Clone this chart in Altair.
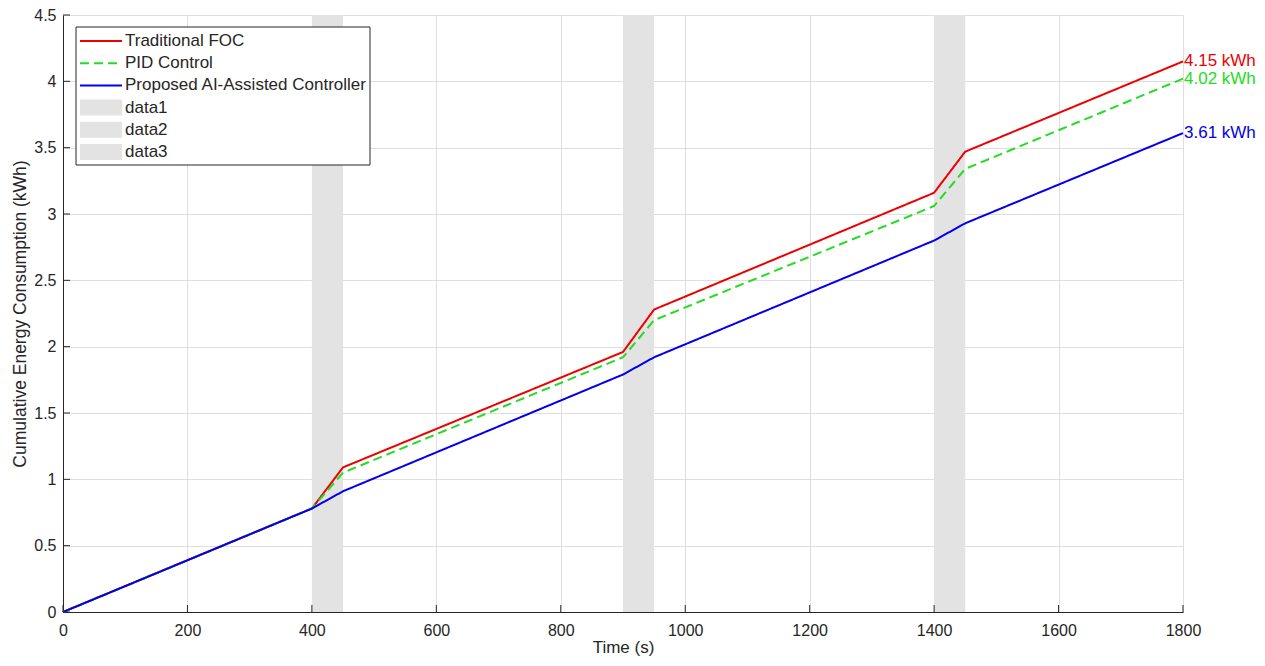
import altair as alt
import pandas as pd

# ---- data ----
time_s = [0, 400, 450, 900, 950, 1400, 1450, 1800]
foc = [0.0, 0.78, 1.09, 1.96, 2.28, 3.16, 3.47, 4.15]
pid = [0.0, 0.78, 1.05, 1.92, 2.20, 3.06, 3.34, 4.02]
ai = [0.0, 0.78, 0.91, 1.79, 1.92, 2.80, 2.93, 3.61]

series_names = ["Traditional FOC", "PID Control", "Proposed AI-Assisted Controller"]
series_colors = ["#ee0000", "#22dd22", "#0000ee"]
series_dash = [[1, 0], [9, 5], [1, 0]]
end_labels = ["4.15 kWh", "4.02 kWh", "3.61 kWh"]

shade_start = [400, 900, 1400]
shade_end = [450, 950, 1450]
shade_names = ["data1", "data2", "data3"]

x_ticks = list(range(0, 1801, 200))
y_ticks = [0, 0.5, 1, 1.5, 2, 2.5, 3, 3.5, 4, 4.5]

# ---- tables ----
rows = []
for name, vals in zip(series_names, [foc, pid, ai]):
    for t, v in zip(time_s, vals):
        rows.append({"series": name, "t": t, "e": v})
lines_df = pd.DataFrame(rows)

end_df = pd.DataFrame({
    "series": series_names,
    "t": [time_s[-1]] * 3,
    "e": [foc[-1], pid[-1], ai[-1]],
    "label": end_labels,
})
shade_df = pd.DataFrame({"x0": shade_start, "x1": shade_end, "y0": [0] * 3, "y1": [4.5] * 3})
xt_df = pd.DataFrame({"t": x_ticks})
yt_df = pd.DataFrame({"e": y_ticks})

W, H = 1120, 597
FONT = "Liberation Sans"
TXT = "#262626"

xscale = alt.Scale(domain=[0, 1800], nice=False)
yscale = alt.Scale(domain=[0, 4.5], nice=False)
color_scale = alt.Scale(domain=series_names, range=series_colors)
dash_scale = alt.Scale(domain=series_names, range=series_dash)

xaxis = alt.Axis(values=x_ticks, format="d", title="Time (s)", grid=True, tickSize=0,
                 labelPadding=10, titlePadding=1, labelFlush=False, titleFontSize=17)
yaxis = alt.Axis(values=y_ticks, format="~g", title="Cumulative Energy Consumption (kWh)",
                 grid=True, tickSize=0, labelPadding=7, titlePadding=4, labelFlush=False,
                 titleFontSize=17.5)

shade = alt.Chart(shade_df).mark_rect(color="#e3e3e3").encode(
    x=alt.X("x0:Q", scale=xscale, axis=xaxis),
    x2="x1:Q",
    y=alt.Y("y0:Q", scale=yscale, axis=yaxis),
    y2="y1:Q",
)

lines = alt.Chart(lines_df).mark_line(strokeWidth=2).encode(
    x=alt.X("t:Q", scale=xscale),
    y=alt.Y("e:Q", scale=yscale),
    color=alt.Color("series:N", scale=color_scale, legend=None),
    strokeDash=alt.StrokeDash("series:N", scale=dash_scale, legend=None),
    order=alt.Order("t:Q"),
)

labels = alt.Chart(end_df).mark_text(align="left", baseline="middle", dx=1,
                                     font=FONT, fontSize=17).encode(
    x=alt.X("t:Q", scale=xscale),
    y=alt.Y("e:Q", scale=yscale),
    text="label:N",
    color=alt.Color("series:N", scale=color_scale, legend=None),
)

xticks = alt.Chart(xt_df).mark_rule(color=TXT, strokeWidth=1).encode(
    x=alt.X("t:Q", scale=xscale), y=alt.value(H), y2=alt.value(H - 7))
yticks = alt.Chart(yt_df).mark_rule(color=TXT, strokeWidth=1).encode(
    y=alt.Y("e:Q", scale=yscale), x=alt.value(0), x2=alt.value(7))

# ---- legend (MATLAB-style box) ----
one = pd.DataFrame({"k": [0]})
leg_layers = [
    alt.Chart(one).mark_rect(fill="white", stroke=TXT, strokeWidth=1).encode(
        x=alt.value(13), x2=alt.value(307), y=alt.value(12), y2=alt.value(150))
]
row_y0, row_dy = 26, 22.2
leg_labels = series_names + shade_names
for i, lab in enumerate(leg_labels):
    yy = row_y0 + row_dy * i
    if i < 3:
        leg_layers.append(
            alt.Chart(one).mark_rule(color=series_colors[i], strokeWidth=2,
                                     strokeDash=series_dash[i]).encode(
                x=alt.value(17), x2=alt.value(59), y=alt.value(yy)))
    else:
        leg_layers.append(
            alt.Chart(one).mark_rect(color="#e3e3e3").encode(
                x=alt.value(17), x2=alt.value(59), y=alt.value(yy - 8), y2=alt.value(yy + 8)))
    leg_layers.append(
        alt.Chart(one).mark_text(align="left", baseline="middle", font=FONT, fontSize=17,
                                 color=TXT, text=lab).encode(
            x=alt.value(62), y=alt.value(yy)))

chart = alt.layer(shade, lines, labels, xticks, yticks, *leg_layers).properties(
    width=W, height=H,
    autosize=alt.AutoSizeParams(type="none"),
    padding={"left": 55, "top": 7, "right": 74, "bottom": 46},
).configure_view(stroke=None).configure_axis(
    domainColor=TXT, domainWidth=1, labelColor=TXT, titleColor=TXT,
    labelFont=FONT, titleFont=FONT, labelFontSize=16,
    titleFontWeight="normal", gridColor="#dedede", gridWidth=1,
)

chart.save("out.html", embed_options={"renderer": "svg", "actions": False})
